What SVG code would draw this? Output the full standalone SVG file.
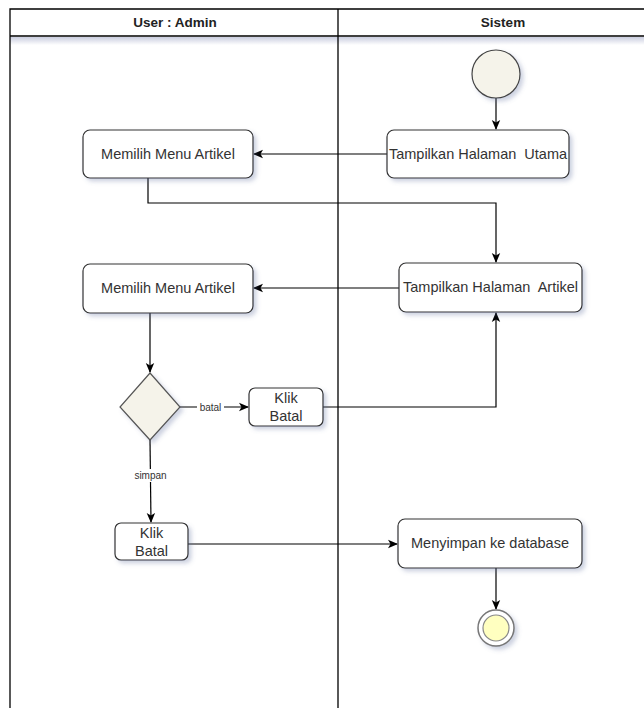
<svg xmlns="http://www.w3.org/2000/svg" width="644" height="708" viewBox="0 0 644 708">
<style>
.lane{fill:none;stroke:#000;stroke-width:1.3}
.hdr{font-family:"Liberation Sans",Arial,sans-serif;font-size:13.5px;font-weight:bold;fill:#222;text-anchor:middle}
.box{fill:#fff;stroke:#333;stroke-width:1.2;filter:url(#sh)}
.t{font-family:"Liberation Sans",Arial,sans-serif;font-size:14.5px;fill:#333;text-anchor:middle;white-space:pre}
.lbl{font-family:"Liberation Sans",Arial,sans-serif;font-size:10px;fill:#333;text-anchor:middle}
.c{fill:none;stroke:#000;stroke-width:1.2}
</style>
<defs>
<filter id="sh" x="-20%" y="-20%" width="150%" height="160%">
<feGaussianBlur in="SourceAlpha" stdDeviation="2"/>
<feOffset dx="3" dy="3" result="b"/>
<feFlood flood-color="#5a6a9a" flood-opacity="0.3"/>
<feComposite in2="b" operator="in"/>
<feMerge><feMergeNode/><feMergeNode in="SourceGraphic"/></feMerge>
</filter>
<linearGradient id="hg" x1="0" y1="0" x2="0" y2="1">
<stop offset="0" stop-color="#8890b8" stop-opacity="0.45"/>
<stop offset="1" stop-color="#8890b8" stop-opacity="0"/>
</linearGradient>
<marker id="ar" viewBox="0 0 10 10" refX="9" refY="5" markerWidth="10" markerHeight="10" markerUnits="userSpaceOnUse" orient="auto">
<path d="M0,0.8 L10,5 L0,9.2 L2.5,5 Z" fill="#000"/>
</marker>
</defs>

<g id="swimlane">
<rect x="10" y="37" width="660" height="8" fill="url(#hg)"/>
<path class="lane" d="M10,708 V9 H650 M10,36 H650 M338,9 V708"/>
<text class="hdr" x="175" y="27">User : Admin</text>
<text class="hdr" x="503" y="27">Sistem</text>
</g>

<g id="connectors">
<path class="c" d="M496,98 V129" marker-end="url(#ar)"/>
<path class="c" d="M387,154 H254" marker-end="url(#ar)"/>
<path class="c" d="M148,178 V203 H496 V262" marker-end="url(#ar)"/>
<path class="c" d="M399,288 H254" marker-end="url(#ar)"/>
<path class="c" d="M150,313 V372" marker-end="url(#ar)"/>
<path class="c" d="M180,407 H248" marker-end="url(#ar)"/>
<rect x="197" y="400" width="27" height="14" fill="#fff"/>
<text class="lbl" x="210.5" y="411">batal</text>
<path class="c" d="M323,407 H496 V313" marker-end="url(#ar)"/>
<path class="c" d="M150,440 L151,522" marker-end="url(#ar)"/>
<rect x="133" y="469" width="36" height="13" fill="#fff"/>
<text class="lbl" x="150.5" y="479">simpan</text>
<path class="c" d="M188,544 H397" marker-end="url(#ar)"/>
<path class="c" d="M496,568 V609" marker-end="url(#ar)"/>
</g>

<g id="start">
<circle cx="496" cy="74" r="24" fill="#f5f3ea" stroke="#444" stroke-width="1.2" filter="url(#sh)"/>
</g>

<g id="tampil-utama">
<rect class="box" x="387" y="130" width="182" height="48" rx="7"/>
<text class="t" x="478" y="159" xml:space="preserve">Tampilkan Halaman  Utama</text>
</g>

<g id="memilih-1">
<rect class="box" x="83" y="130" width="170" height="48" rx="7"/>
<text class="t" x="168" y="159">Memilih Menu Artikel</text>
</g>

<g id="tampil-artikel">
<rect class="box" x="399" y="263" width="183" height="49" rx="7"/>
<text class="t" x="490.5" y="292" xml:space="preserve">Tampilkan Halaman  Artikel</text>
</g>

<g id="memilih-2">
<rect class="box" x="83" y="264" width="170" height="49" rx="7"/>
<text class="t" x="168" y="293">Memilih Menu Artikel</text>
</g>

<g id="decision">
<path d="M150,373 L180,407 L150,440 L120,407 Z" fill="#f5f3ea" stroke="#555" stroke-width="1.2" filter="url(#sh)"/>
</g>

<g id="klik-batal-1">
<rect class="box" x="249" y="388" width="74" height="38" rx="6"/>
<text class="t" x="286" y="403">Klik</text>
<text class="t" x="286" y="421">Batal</text>
</g>

<g id="klik-batal-2">
<rect class="box" x="115" y="523" width="73" height="37" rx="6"/>
<text class="t" x="151.5" y="538">Klik</text>
<text class="t" x="151.5" y="556">Batal</text>
</g>

<g id="menyimpan">
<rect class="box" x="398" y="519" width="184" height="49" rx="7"/>
<text class="t" x="490" y="548">Menyimpan ke database</text>
</g>

<g id="end">
<circle cx="496" cy="628" r="18" fill="#fff" stroke="#777" stroke-width="1.5" filter="url(#sh)"/>
<circle cx="496" cy="628" r="13" fill="#ffffc0" stroke="#888" stroke-width="1.2"/>
</g>
</svg>
